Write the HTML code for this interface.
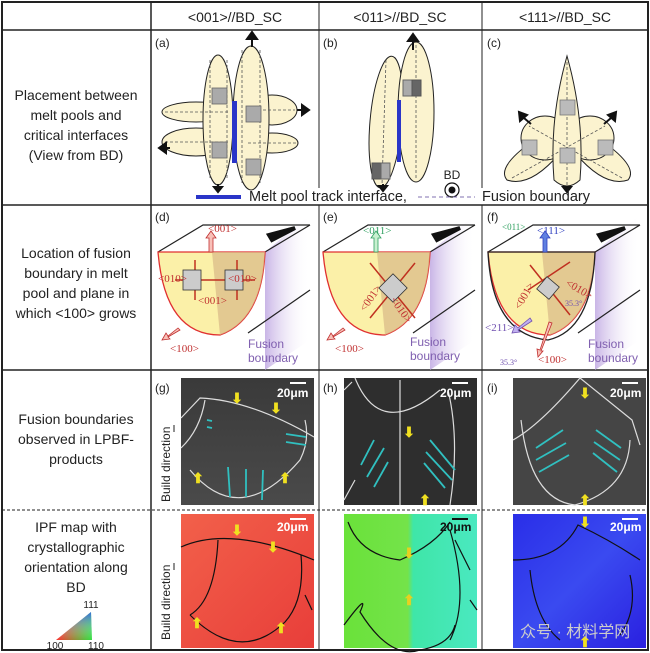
<!DOCTYPE html>
<html><head><meta charset="utf-8"><style>
body{margin:0;background:#fff;}
svg{display:block;font-family:"Liberation Sans",sans-serif;}
</style></head><body>
<svg width="650" height="653" viewBox="0 0 650 653" xmlns="http://www.w3.org/2000/svg">
<defs>
<linearGradient id="pur" x1="0" x2="1"><stop offset="0" stop-color="#c9b5e6"/><stop offset="1" stop-color="#fff" stop-opacity="0"/></linearGradient>
<linearGradient id="red" x1="0" x2="1" y1="0" y2="1"><stop offset="0" stop-color="#f2604a"/><stop offset="1" stop-color="#e83e3a"/></linearGradient>
<linearGradient id="grn" x1="0" x2="1"><stop offset="0" stop-color="#6ae23a"/><stop offset="0.48" stop-color="#74e34a"/><stop offset="0.52" stop-color="#3fe6a8"/><stop offset="1" stop-color="#4ae8c0"/></linearGradient>
<linearGradient id="blu" x1="0" x2="1" y1="0" y2="1"><stop offset="0" stop-color="#2a2ee8"/><stop offset="0.5" stop-color="#3a4af0"/><stop offset="1" stop-color="#2a20e0"/></linearGradient>
<linearGradient id="sem" x1="0" x2="0" y1="0" y2="1"><stop offset="0" stop-color="#3a3a3a"/><stop offset="1" stop-color="#4a4a4a"/></linearGradient>
<linearGradient id="tri1" x1="0" x2="1"><stop offset="0" stop-color="#ff3030"/><stop offset="1" stop-color="#30e040"/></linearGradient>
<linearGradient id="tri2" x1="0" x2="0" y1="0" y2="1"><stop offset="0" stop-color="#3050ff"/><stop offset="1" stop-color="#fff" stop-opacity="0"/></linearGradient>
</defs>
<rect x="0" y="0" width="650" height="653" fill="#fff"/>
<g stroke="#222" fill="none">
<rect x="2" y="2" width="646" height="648" stroke-width="2"/>
<line x1="2" y1="30" x2="648" y2="30" stroke-width="1.5"/>
<line x1="2" y1="205" x2="648" y2="205" stroke-width="1.5"/>
<line x1="2" y1="370" x2="648" y2="370" stroke-width="1.5"/>
<line x1="2" y1="510" x2="648" y2="510" stroke-width="1" stroke-dasharray="3,2"/>
<line x1="151" y1="2" x2="151" y2="650" stroke-width="1.5"/>
<line x1="319" y1="2" x2="319" y2="188"/><line x1="319" y1="205" x2="319" y2="650"/>
<line x1="482" y1="2" x2="482" y2="188"/><line x1="482" y1="205" x2="482" y2="650"/>
</g>
<g font-size="14" fill="#222" text-anchor="middle">
<text x="235" y="22">&lt;001&gt;//BD_SC</text>
<text x="400" y="22">&lt;011&gt;//BD_SC</text>
<text x="565" y="22">&lt;111&gt;//BD_SC</text>
</g>
<g font-size="14" fill="#222" text-anchor="middle">
<text x="76" y="100">Placement between</text>
<text x="76" y="120">melt pools and</text>
<text x="76" y="140">critical interfaces</text>
<text x="76" y="160">(View from BD)</text>
<text x="76" y="258">Location of fusion</text>
<text x="76" y="278">boundary in melt</text>
<text x="76" y="298">pool and plane in</text>
<text x="76" y="318">which &lt;100&gt; grows</text>
<text x="76" y="424">Fusion boundaries</text>
<text x="76" y="444">observed in LPBF-</text>
<text x="76" y="464">products</text>
<text x="76" y="532">IPF map with</text>
<text x="76" y="552">crystallographic</text>
<text x="76" y="572">orientation along</text>
<text x="76" y="592">BD</text>
</g>
<path d="M56,640 L92,640 L91,612 Z" fill="url(#tri1)"/>
<path d="M56,640 L92,640 L91,612 Z" fill="url(#tri2)" opacity="0.8"/>
<g font-size="10" fill="#222" text-anchor="middle"><text x="91" y="608">111</text><text x="55" y="649">100</text><text x="96" y="649">110</text></g>

<g font-size="12" fill="#222">
<text x="155" y="47">(a)</text><text x="323" y="47">(b)</text><text x="487" y="47">(c)</text>
<text x="155" y="221">(d)</text><text x="323" y="221">(e)</text><text x="487" y="221">(f)</text>
<text x="155" y="392">(g)</text><text x="323" y="392">(h)</text><text x="487" y="392">(i)</text>
</g>

<!-- (a) -->
<g stroke="#222" stroke-width="1" fill="#fbf3cf">
<ellipse cx="196" cy="112" rx="34" ry="10"/>
<ellipse cx="196" cy="142" rx="34" ry="14"/>
<ellipse cx="272" cy="110" rx="25" ry="15"/>
<ellipse cx="272" cy="143" rx="26" ry="10"/>
<ellipse cx="218" cy="120" rx="15" ry="65"/>
<ellipse cx="251" cy="118" rx="18" ry="72"/>
</g>
<g stroke="#555" stroke-dasharray="3,2" fill="none" stroke-width="0.8">
<line x1="210" y1="60" x2="210" y2="178"/><line x1="227" y1="60" x2="227" y2="178"/>
<line x1="242" y1="50" x2="242" y2="185"/><line x1="260" y1="50" x2="260" y2="185"/>
<line x1="165" y1="112" x2="228" y2="112"/><line x1="165" y1="142" x2="228" y2="142"/>
<line x1="248" y1="110" x2="295" y2="110"/><line x1="248" y1="143" x2="296" y2="143"/>
</g>
<rect x="232" y="101" width="5" height="62" fill="#2a35c8"/>
<g fill="#aaa" stroke="#666" stroke-width="0.8">
<rect x="212" y="88" width="15" height="16"/><rect x="212" y="142" width="15" height="16"/>
<rect x="246" y="106" width="15" height="16"/><rect x="246" y="159" width="15" height="16"/>
</g>
<g fill="#111" stroke="#111" stroke-width="2">
<line x1="252" y1="47" x2="252" y2="38"/><path d="M247,39 L252,32 L257,39Z"/>
<line x1="218" y1="184" x2="218" y2="188"/><path d="M214,187 L218,192 L222,187Z"/>
<line x1="297" y1="110" x2="303" y2="110"/><path d="M302,105 L309,110 L302,115Z"/>
<line x1="162" y1="148" x2="170" y2="148"/><path d="M166,143 L159,148 L166,153Z"/>
</g>
<!-- (b) -->
<g stroke="#222" stroke-width="1" fill="#fbf3cf">
<ellipse cx="386" cy="122" rx="16" ry="66" transform="rotate(5 386 122)"/>
<ellipse cx="416" cy="112" rx="18" ry="70"/>
</g>
<g stroke="#555" stroke-dasharray="3,2" stroke-width="0.8"><line x1="386" y1="60" x2="382" y2="185"/><line x1="416" y1="45" x2="416" y2="180"/></g>
<rect x="397" y="100" width="4" height="62" fill="#2a35c8"/>
<rect x="403" y="80" width="9" height="16" fill="#aaa" stroke="#666"/><rect x="412" y="80" width="9" height="16" fill="#666" stroke="#555"/>
<rect x="372" y="163" width="9" height="16" fill="#666" stroke="#555"/><rect x="381" y="163" width="9" height="16" fill="#aaa" stroke="#666"/>
<g fill="#111" stroke="#111" stroke-width="2">
<line x1="413" y1="50" x2="413" y2="40"/><path d="M408,41 L413,34 L418,41Z"/>
<line x1="383" y1="184" x2="383" y2="187"/><path d="M379,186 L383,191 L387,186Z"/>
</g>
<text x="452" y="179" font-size="12" fill="#222" text-anchor="middle">BD</text>
<circle cx="452" cy="190" r="7" fill="#fff" stroke="#111" stroke-width="1.2"/><circle cx="452" cy="190" r="3.5" fill="#111"/>
<!-- (c) -->
<g stroke="#222" stroke-width="1" fill="#fbf3cf">
<path d="M507,180 Q495,166 540,136 L560,153 Q530,188 507,180Z"/>
<path d="M628,180 Q640,166 595,136 L575,153 Q605,188 628,180Z"/>
<ellipse cx="545" cy="138" rx="24" ry="22"/>
<ellipse cx="590" cy="138" rx="24" ry="22"/>
<path d="M567,56 Q585,120 580,180 Q567,192 554,180 Q549,120 567,56Z"/>
</g>
<g stroke="#555" stroke-dasharray="3,2" stroke-width="0.8" fill="none"><line x1="567" y1="62" x2="567" y2="186"/><line x1="512" y1="178" x2="605" y2="126"/><line x1="622" y1="178" x2="529" y2="126"/></g>
<g fill="#bbb" stroke="#777" stroke-width="0.8">
<rect x="560" y="100" width="15" height="15"/><rect x="560" y="148" width="15" height="15"/>
<rect x="522" y="140" width="15" height="15"/><rect x="598" y="140" width="15" height="15"/>
</g>
<g fill="#111" stroke="#111" stroke-width="2">
<path d="M563,187 L567,192 L571,187Z"/>
<line x1="531" y1="124" x2="524" y2="118"/><path d="M520,121 L519,112 L527,115Z"/>
<line x1="604" y1="124" x2="611" y2="118"/><path d="M615,121 L616,112 L608,115Z"/>
</g>
<!-- legend -->
<rect x="196" y="195" width="45" height="4" fill="#2a35c8"/>
<text x="249" y="201" font-size="14.5" fill="#222">Melt pool track interface,</text>
<line x1="418" y1="197" x2="475" y2="197" stroke="#8070b0" stroke-dasharray="4,3"/>
<text x="482" y="201" font-size="14.5" fill="#222">Fusion boundary</text>

<g id="mp">
<path d="M265,252 L310,215 L310,340 L265,370 Z" fill="url(#pur)"/>
<path d="M158,252 L203,225 L310,225" stroke="#222" fill="none" stroke-width="1.2"/>
<path d="M265,252 L310,225" stroke="#222" stroke-width="1.2"/>
<path d="M248,333 L310,290" stroke="#222" stroke-width="1.2"/>
<path d="M158,252 L265,252 Q262,320 220,335 Q165,335 158,252Z" fill="#fbf0a8" stroke="#e03030" stroke-width="1.3"/>
<path d="M212,252 L265,252 Q262,320 220,335 Z" fill="#d9b888" opacity="0.7"/>
</g>
<use href="#mp" x="165"/>
<use href="#mp" x="330"/>
<path d="M488,252 L595,252 Q592,330 548,340 Q492,335 488,252Z" fill="none" stroke="#222" stroke-width="1.3"/>
<g fill="#111"><path d="M295,228 L272,240 L269,235 Z" stroke="#111" stroke-width="4"/><path d="M460,228 L437,240 L434,235 Z" stroke="#111" stroke-width="4"/><path d="M625,228 L602,240 L599,235 Z" stroke="#111" stroke-width="4"/></g>
<g stroke="#c03020" stroke-width="1.5" fill="none">
<line x1="175" y1="280" x2="255" y2="280"/><line x1="195" y1="300" x2="195" y2="260"/><line x1="237" y1="300" x2="237" y2="260"/>
<line x1="370" y1="263" x2="415" y2="318"/><line x1="415" y1="263" x2="370" y2="318"/>
<line x1="530" y1="265" x2="570" y2="315"/><line x1="570" y1="262" x2="528" y2="290"/>
</g>
<g fill="#ccc" stroke="#333" stroke-width="0.8">
<rect x="183" y="270" width="18" height="20"/><rect x="225" y="270" width="18" height="20"/>
<rect x="383" y="278" width="20" height="20" transform="rotate(45 393 288)"/>
<rect x="540" y="280" width="16" height="16" transform="rotate(40 548 288)"/>
</g>
<g font-family="Liberation Serif,serif" font-size="11" fill="#c03030">
<text x="208" y="232">&lt;001&gt;</text><text x="158" y="282">&lt;010&gt;</text><text x="228" y="282">&lt;010&gt;</text><text x="198" y="304">&lt;001&gt;</text>
<text x="170" y="352">&lt;100&gt;</text><text x="335" y="352">&lt;100&gt;</text>
<text x="365" y="312" transform="rotate(-55 365 312)">&lt;001&gt;</text><text x="390" y="300" transform="rotate(55 390 300)">&lt;010&gt;</text>
<text x="565" y="285" transform="rotate(30 565 285)">&lt;010&gt;</text><text x="520" y="310" transform="rotate(-60 520 310)">&lt;001&gt;</text>
<text x="538" y="363">&lt;100&gt;</text>
</g>
<text x="363" y="234" font-family="Liberation Serif,serif" font-size="11" fill="#30a060">&lt;011&gt;</text>
<text x="502" y="230" font-family="Liberation Serif,serif" font-size="9" fill="#30a060">&lt;011&gt;</text>
<text x="537" y="234" font-family="Liberation Serif,serif" font-size="11" fill="#3040c0">&lt;111&gt;</text>
<text x="485" y="331" font-family="Liberation Serif,serif" font-size="11" fill="#7050b0">&lt;211&gt;</text>
<g font-family="Liberation Serif,serif" font-size="8" fill="#7050b0"><text x="565" y="306">35.3°</text><text x="500" y="365">35.3°</text></g>
<g stroke="#c03030" fill="#f8c0b8" stroke-width="0.8">
<path d="M209,252 L209,238 L206,238 L211,231 L216,238 L213,238 L213,252Z"/>
<path d="M178,328 L168,336 L166,333 L162,340 L170,339 L168,337 L180,330Z"/>
<path d="M343,328 L333,336 L331,333 L327,340 L335,339 L333,337 L345,330Z"/>
<path d="M549,322 L540,350 L537,349 L538,357 L543,351 L541,351 L552,323Z"/>
</g>
<path d="M374,252 L374,238 L371,238 L376,231 L381,238 L378,238 L378,252Z" fill="#c8f0d0" stroke="#30a060" stroke-width="0.8"/>
<path d="M543,252 L543,238 L540,238 L545,231 L550,238 L547,238 L547,252Z" fill="#6080e0" stroke="#3040c0" stroke-width="0.8"/>
<path d="M530,318 L518,328 L515,325 L512,333 L520,332 L518,330 L532,321Z" fill="#c0b0f0" stroke="#7050b0" stroke-width="0.8"/>
<g font-size="12" fill="#8060b0"><text x="248" y="348">Fusion</text><text x="248" y="362">boundary</text>
<text x="410" y="346">Fusion</text><text x="410" y="360">boundary</text>
<text x="588" y="348">Fusion</text><text x="588" y="362">boundary</text></g>

<rect x="181" y="378" width="133" height="127" fill="url(#sem)"/>
<rect x="344" y="378" width="133" height="127" fill="#2e2e2e"/>
<rect x="513" y="378" width="133" height="127" fill="#454545"/>
<rect x="181" y="514" width="133" height="134" fill="url(#red)"/>
<rect x="344" y="514" width="133" height="134" fill="url(#grn)"/>
<rect x="513" y="514" width="133" height="134" fill="url(#blu)"/>
<g fill="none" stroke-width="1.2">
<path stroke="#ddd" d="M181,418 L200,398 Q250,400 314,437 M181,448 Q200,430 205,400 M190,470 Q240,530 300,460 Q310,440 305,420"/>
<path stroke="#ddd" d="M355,378 Q380,440 440,390 M352,382 L344,390 M400,380 L400,505 M448,390 Q460,440 450,505 M355,480 L344,500"/>
<path stroke="#ddd" d="M513,440 Q540,425 580,378 L632,420 L640,445 M521,420 Q530,500 575,505 Q628,490 630,440"/>
<path stroke="#111" d="M181,547 Q230,525 314,560 M218,540 Q215,600 190,615 M301,555 Q305,600 285,622 M190,615 Q240,665 285,622 M305,595 L312,610"/>
<path stroke="#111" d="M348,522 Q360,555 400,560 Q435,545 450,522 M455,540 L470,570 M450,530 Q470,600 450,640 M344,625 Q370,590 360,612 Q390,660 420,650 Q450,645 455,625 M470,600 L477,610"/>
<path stroke="#111" d="M513,560 Q560,560 578,525 Q610,540 640,560 M530,570 Q535,620 560,640 M630,575 Q638,610 620,635"/>
</g>
<g stroke="#30c0c0" stroke-width="1.8">
<line x1="207" y1="420" x2="212" y2="421"/><line x1="207" y1="427" x2="212" y2="428"/>
<line x1="286" y1="434" x2="306" y2="437"/><line x1="286" y1="442" x2="306" y2="445"/>
<line x1="228" y1="467" x2="230" y2="497"/><line x1="246" y1="469" x2="246" y2="497"/><line x1="263" y1="470" x2="262" y2="500"/>
<line x1="361" y1="465" x2="374" y2="440"/><line x1="367" y1="477" x2="384" y2="448"/><line x1="374" y1="487" x2="388" y2="462"/>
<line x1="430" y1="440" x2="455" y2="470"/><line x1="426" y1="452" x2="452" y2="480"/><line x1="424" y1="463" x2="445" y2="488"/>
<line x1="536" y1="448" x2="563" y2="430"/><line x1="536" y1="460" x2="566" y2="443"/><line x1="539" y1="472" x2="569" y2="455"/>
<line x1="596" y1="430" x2="621" y2="448"/><line x1="594" y1="442" x2="620" y2="460"/><line x1="593" y1="453" x2="617" y2="472"/>
</g>
<g fill="#f0e020" font-size="14" font-weight="bold" text-anchor="middle">
<text x="237" y="403">⬇</text><text x="276" y="413">⬇</text><text x="198" y="483">⬆</text><text x="285" y="483">⬆</text>
<text x="409" y="437">⬇</text><text x="425" y="505">⬆</text>
<text x="585" y="398">⬇</text><text x="585" y="505">⬆</text>
<text x="237" y="535">⬇</text><text x="273" y="552">⬇</text><text x="197" y="628">⬆</text><text x="281" y="633">⬆</text>
<text x="409" y="605" fill="#e8d020">⬆</text><text x="409" y="558" fill="#e8d020">⬇</text>
<text x="585" y="527">⬇</text><text x="585" y="647">⬆</text>
</g>
<g fill="#fff" font-size="12" font-weight="bold">
<text x="277" y="397">20μm</text><text x="440" y="397">20μm</text><text x="610" y="397">20μm</text>
<text x="277" y="531">20μm</text><text x="610" y="531">20μm</text></g>
<text x="440" y="531" fill="#111" font-size="12" font-weight="bold">20μm</text>
<g stroke="#fff" stroke-width="2"><line x1="290" y1="383" x2="306" y2="383"/><line x1="452" y1="383" x2="468" y2="383"/><line x1="622" y1="383" x2="638" y2="383"/><line x1="290" y1="519" x2="306" y2="519"/><line x1="622" y1="519" x2="638" y2="519"/></g>
<line x1="452" y1="519" x2="468" y2="519" stroke="#111" stroke-width="2"/>
<g font-size="12" fill="#222">
<text transform="translate(170 502) rotate(-90)">Build direction</text>
<text transform="translate(170 640) rotate(-90)">Build direction</text>
</g>
<g stroke="#222"><line x1="174" y1="425" x2="174" y2="432"/><line x1="174" y1="563" x2="174" y2="570"/></g>
<text x="520" y="637" font-size="16" fill="#ccc">众号 · 材料学网</text>
</svg>
</body></html>
